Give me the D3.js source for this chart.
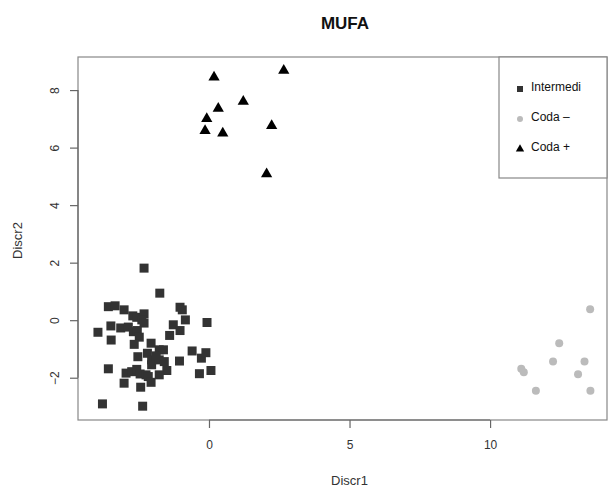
<!DOCTYPE html>
<html>
<head>
<meta charset="utf-8">
<script src="https://cdn.jsdelivr.net/npm/d3@7"></script>
<style>
  body { margin: 0; background: #fff; }
  text { font-family: "Liberation Sans", Arial, sans-serif; }
</style>
</head>
<body>
<svg id="chart"></svg>
<script>
// Intermedi (squares)
const intermediX = [-2.31, -1.75, -3.58, -3.34, -3.02, -2.71, -2.57, -2.31, -2.39, -2.31,
  -1.03, -0.95, -0.84, -0.07, -1.27, -1.03, -1.40, -3.95, -3.49, -3.14,
  -2.87, -2.69, -2.55, -2.48, -3.48, -2.66, -2.06, -2.53, -2.19, -2.04,
  -2.04, -1.77, -1.62, -1.77, -1.59, -1.50, -1.77, -1.05, -0.60, -0.27,
  -0.11, -0.34, 0.07, -3.58, -2.95, -2.75, -2.57, -2.45, -2.24, -2.16,
  -3.02, -2.43, -2.06, -3.79, -2.36, -1.88];
const intermediY = [1.81, 0.94, 0.47, 0.50, 0.36, 0.15, 0.10, 0.22, 0.01, -0.10,
  0.45, 0.36, 0.01, -0.08, -0.16, -0.36, -0.53, -0.42, -0.20, -0.27,
  -0.24, -0.40, -0.36, -0.59, -0.69, -0.84, -0.80, -1.27, -1.15, -1.38,
  -1.55, -1.03, -1.03, -1.38, -1.44, -1.75, -1.90, -1.42, -1.07, -1.32,
  -1.13, -1.86, -1.75, -1.69, -1.84, -1.79, -1.71, -1.87, -1.90, -1.96,
  -2.19, -2.33, -2.16, -2.91, -2.99, -1.24];

// Coda – (grey circles)
const codaMinusX = [13.56, 12.46, 12.24, 13.36, 11.11, 11.20, 13.13, 11.63, 13.57];
const codaMinusY = [0.38, -0.80, -1.44, -1.44, -1.69, -1.81, -1.88, -2.45, -2.45];

// Coda + (triangles)
const codaPlusX = [0.18, 2.66, 1.22, 0.33, -0.08, -0.14, 0.49, 2.23, 2.05];
const codaPlusY = [8.45, 8.68, 7.60, 7.36, 7.00, 6.59, 6.50, 6.76, 5.08];

const xTicks = [0, 5, 10];
const yTicks = [-2, 0, 2, 4, 6, 8];
const legendLabels = ["Intermedi", "Coda \u2013", "Coda +"];

const width = 608, height = 488;
const box = {left: 78, right: 607, top: 57, bottom: 420};

const svg = d3.select("#chart")
  .attr("width", width)
  .attr("height", height);

const x = d3.scaleLinear().domain([-4.66, 14.16]).range([box.left, box.right]);
const y = d3.scaleLinear().domain([-3.47, 9.15]).range([box.bottom, box.top]);

// plot frame
svg.append("rect")
  .attr("x", box.left).attr("y", box.top)
  .attr("width", box.right - box.left).attr("height", box.bottom - box.top)
  .attr("fill", "none").attr("stroke", "#888").attr("stroke-width", 1.2);

// axes (R style: axis line only spans the ticks)
const xAxis = svg.append("g")
  .attr("transform", `translate(0,${box.bottom})`)
  .call(d3.axisBottom(x).tickValues(xTicks).tickSize(8).tickPadding(12).tickFormat(d3.format("d")));
const yAxis = svg.append("g")
  .attr("transform", `translate(${box.left},0)`)
  .call(d3.axisLeft(y).tickValues(yTicks).tickSize(8).tickPadding(4).tickFormat(d3.format("d")));

xAxis.select(".domain").remove();
yAxis.select(".domain").remove();
xAxis.append("line")
  .attr("x1", x(d3.min(xTicks))).attr("x2", x(d3.max(xTicks)))
  .attr("stroke", "#666").attr("stroke-width", 1.2);
yAxis.append("line")
  .attr("y1", y(d3.min(yTicks))).attr("y2", y(d3.max(yTicks)))
  .attr("stroke", "#666").attr("stroke-width", 1.2);

[xAxis, yAxis].forEach(g => {
  g.selectAll(".tick line").attr("stroke", "#666").attr("stroke-width", 1.2);
  g.selectAll(".tick text").attr("font-size", 12).attr("fill", "#333")
    .attr("font-family", "'Liberation Sans', Arial, sans-serif");
});
yAxis.selectAll(".tick text")
  .attr("text-anchor", "middle")
  .attr("dy", null)
  .attr("x", null)
  .attr("transform", "translate(-22,0) rotate(-90)")
  .attr("dominant-baseline", "middle");

// titles
svg.append("text")
  .attr("x", 345).attr("y", 29)
  .attr("text-anchor", "middle")
  .attr("font-size", 17).attr("font-weight", "bold").attr("fill", "#111")
  .text("MUFA");

svg.append("text")
  .attr("x", (box.left + box.right) / 2 + 7).attr("y", 485)
  .attr("text-anchor", "middle")
  .attr("font-size", 13).attr("fill", "#333")
  .text("Discr1");

svg.append("text")
  .attr("transform", `translate(22,${(box.top + box.bottom) / 2 + 2}) rotate(-90)`)
  .attr("text-anchor", "middle")
  .attr("font-size", 13).attr("fill", "#333")
  .text("Discr2");

// points
const squares = d3.symbol().type(d3.symbolSquare).size(81);
const triangles = d3.symbol().type(d3.symbolTriangle).size(55);

svg.append("g").selectAll("path")
  .data(d3.range(intermediX.length))
  .join("path")
  .attr("d", squares)
  .attr("transform", i => `translate(${x(intermediX[i])},${y(intermediY[i])})`)
  .attr("fill", "#333");

svg.append("g").selectAll("circle")
  .data(d3.range(codaMinusX.length))
  .join("circle")
  .attr("cx", i => x(codaMinusX[i]))
  .attr("cy", i => y(codaMinusY[i]))
  .attr("r", 4)
  .attr("fill", "#bbb");

svg.append("g").selectAll("path")
  .data(d3.range(codaPlusX.length))
  .join("path")
  .attr("d", triangles)
  .attr("transform", i => `translate(${x(codaPlusX[i])},${y(codaPlusY[i])})`)
  .attr("fill", "#000");

// legend
const legend = svg.append("g");
legend.append("rect")
  .attr("x", 499).attr("y", box.top)
  .attr("width", box.right - 499).attr("height", 178 - box.top)
  .attr("fill", "#fff").attr("stroke", "#888").attr("stroke-width", 1.2);

const legendY = [88, 118, 148];
legend.append("path")
  .attr("d", d3.symbol().type(d3.symbolSquare).size(36))
  .attr("transform", `translate(520,${legendY[0] + 1})`)
  .attr("fill", "#333");
legend.append("circle")
  .attr("cx", 520).attr("cy", legendY[1] + 1).attr("r", 3)
  .attr("fill", "#bbb");
legend.append("path")
  .attr("d", d3.symbol().type(d3.symbolTriangle).size(30))
  .attr("transform", `translate(520,${legendY[2] + 1})`)
  .attr("fill", "#000");

legend.selectAll("text.lab")
  .data(legendLabels)
  .join("text")
  .attr("class", "lab")
  .attr("x", 531)
  .attr("y", (d, i) => legendY[i])
  .attr("dominant-baseline", "middle")
  .attr("font-size", 12).attr("fill", "#111")
  .text(d => d);
</script>
</body>
</html>
